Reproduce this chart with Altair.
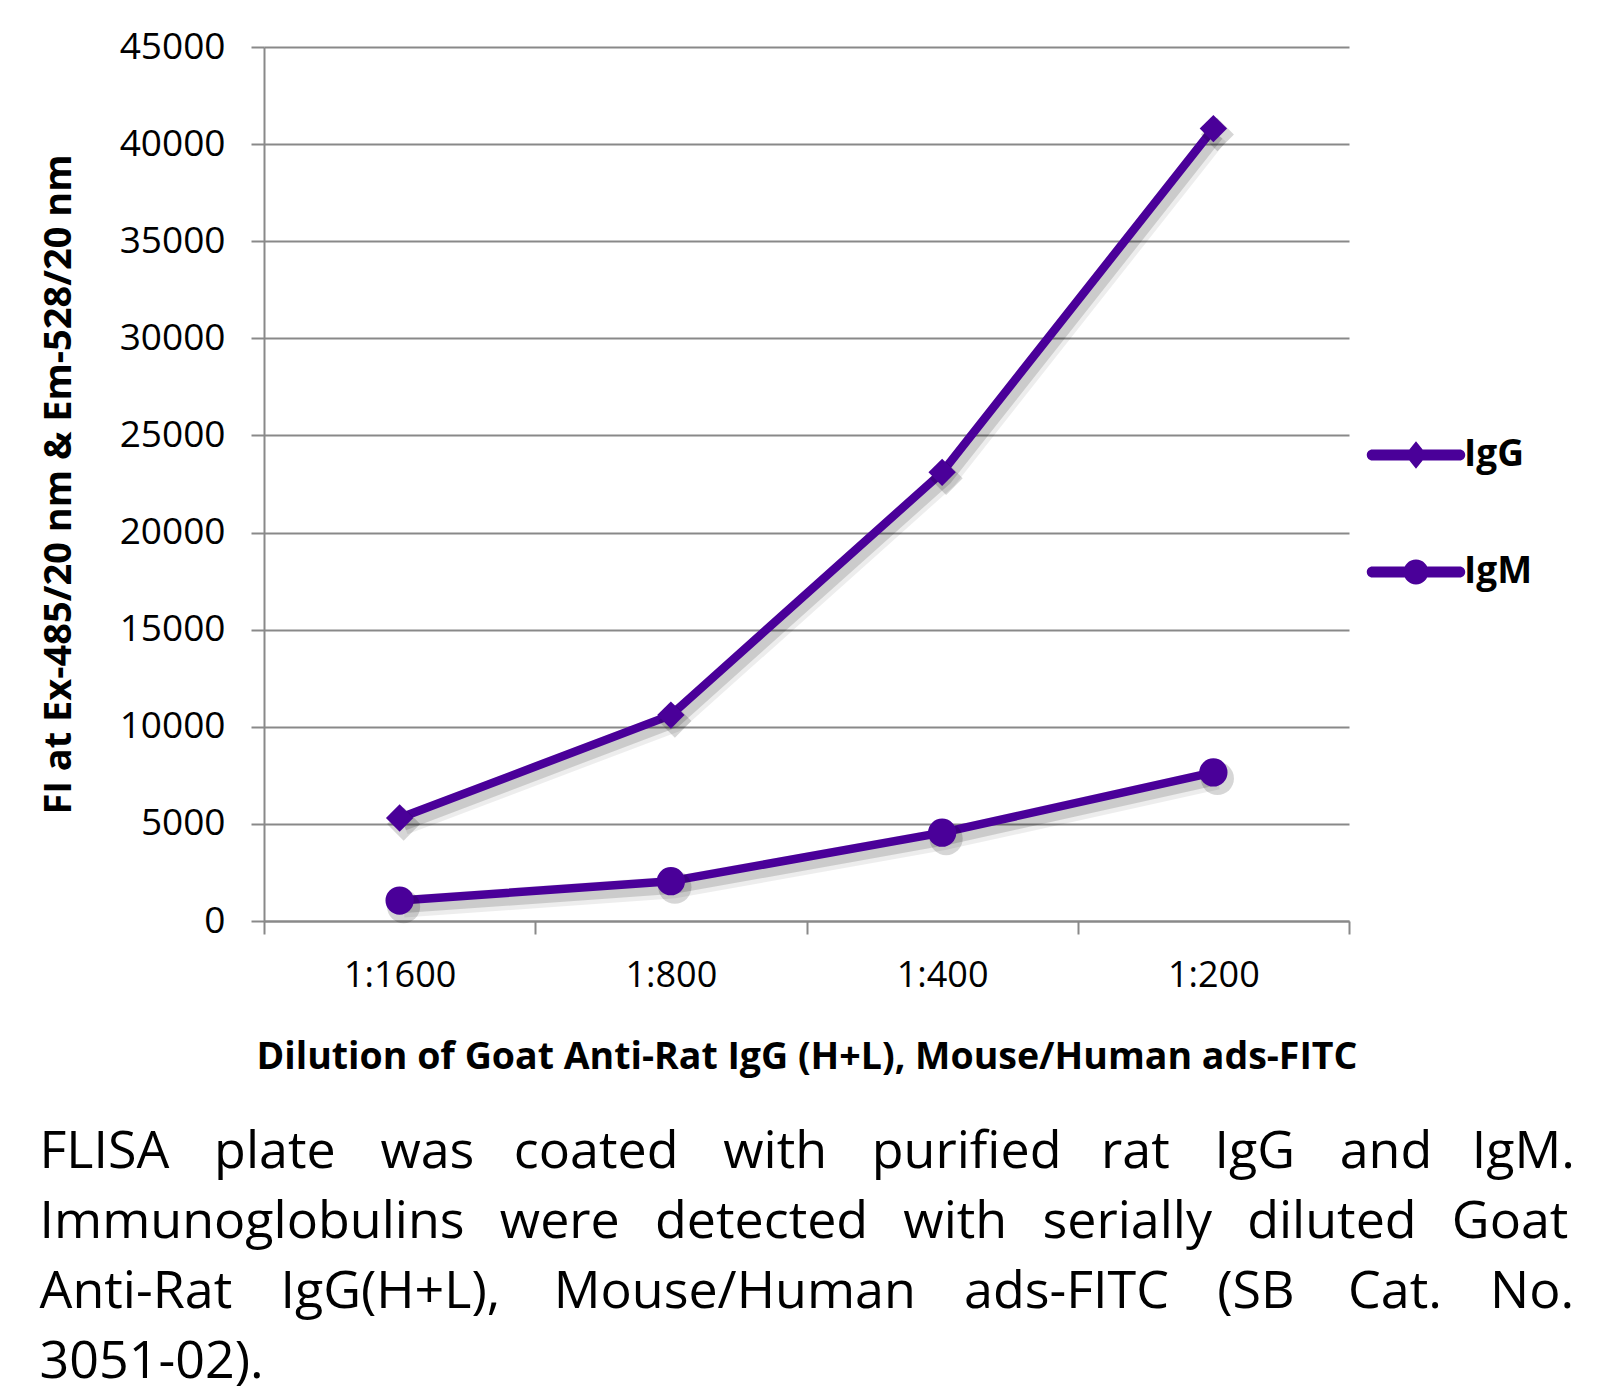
import altair as alt
import pandas as pd

dilutions = ["1:1600", "1:800", "1:400", "1:200"]
igg = [5300, 10600, 23100, 40800]
igm = [1050, 2050, 4550, 7650]
series = ["IgG", "IgM"]
y_ticks = [0, 5000, 10000, 15000, 20000, 25000, 30000, 35000, 40000, 45000]
caption_words = [
    ["FLISA", "plate", "was", "coated", "with", "purified", "rat", "IgG", "and", "IgM."],
    ["Immunoglobulins", "were", "detected", "with", "serially", "diluted", "Goat"],
    ["Anti-Rat", "IgG(H+L),", "Mouse/Human", "ads-FITC", "(SB", "Cat.", "No."],
    ["3051-02)."],
]
x_title = "Dilution of Goat Anti-Rat IgG (H+L), Mouse/Human ads-FITC"
y_title = "FI at Ex-485/20 nm & Em-528/20 nm"

# word gaps emulating the justified paragraph (style only)
A = " \u2004\u2006\u200a"
B = " \u2004\u2006"
C = " \u2002\u2006"
D = " \u2002\u2006\u200a"
E = " \u2005\u2006"
gap_patterns = [
    [A, A, B, A, A, B, A, A, B],
    [E, E, E, E, E, E],
    [C, D, C, C, D, C],
    [],
]


def join_words(words, gaps):
    out = words[0]
    for g, w in zip(gaps, words[1:]):
        out += g + w
    return out


caption_lines = [join_words(w, g) for w, g in zip(caption_words, gap_patterns)]

PURPLE = "#4A0099"
GRID = "#898989"
REG = "Open Sans"
BOLD = "Open Sans"

df = pd.DataFrame({
    "Dilution": dilutions * 2,
    "Value": igg + igm,
    "Series": [series[0]] * len(igg) + [series[1]] * len(igm),
})

x_enc = alt.X(
    "Dilution:N", sort=dilutions, bandPosition=0.5,
    scale=alt.Scale(type="band", paddingInner=0, paddingOuter=0),
    axis=alt.Axis(
        title=x_title, labelAngle=0, tickBand="extent", grid=False,
        domainColor=GRID, domainWidth=2, tickColor=GRID, tickWidth=2, tickSize=13,
        labelFont=REG, labelFontSize=36, labelColor="black", labelPadding=24,
        titleFont=BOLD, titleFontSize=37.5, titleFontWeight="bold", titleColor="black",
        titlePadding=45,
    ),
)
y_enc = alt.Y(
    "Value:Q",
    scale=alt.Scale(domain=[0, 45000], nice=False),
    axis=alt.Axis(
        values=y_ticks, format="d", title=y_title, grid=True,
        gridColor=GRID, gridWidth=2, domainColor=GRID, domainWidth=2,
        tickColor=GRID, tickWidth=2, tickSize=13,
        labelFont=REG, labelFontSize=37, labelColor="black", labelPadding=26,
        titleFont=BOLD, titleFontSize=38, titleFontWeight="bold", titleColor="black",
        titlePadding=41,
    ),
)

base = alt.Chart(df).encode(x=x_enc, y=y_enc, detail="Series:N")

shadow1 = base.mark_line(color="#000000", opacity=0.07, strokeWidth=22, xOffset=4, yOffset=6, strokeJoin="round")
shadow2 = base.mark_line(color="#000000", opacity=0.14, strokeWidth=13, xOffset=4, yOffset=6, strokeJoin="round")
line = base.mark_line(color=PURPLE, strokeWidth=8.5, strokeJoin="round")

pts_g = base.transform_filter(alt.datum.Series == series[0])
pts_m = base.transform_filter(alt.datum.Series == series[1])
sh_g = pts_g.mark_point(shape="diamond", filled=True, size=1100, color="#000000", opacity=0.16, xOffset=4, yOffset=6)
sh_m = pts_m.mark_point(shape="circle", filled=True, size=1100, color="#000000", opacity=0.16, xOffset=4, yOffset=6)
dot_g = pts_g.mark_point(shape="diamond", filled=True, size=750, color=PURPLE, opacity=1)
dot_m = pts_m.mark_point(shape="circle", filled=True, size=800, color=PURPLE, opacity=1)

path_g = ("M-0.95,-0.12 L0.95,-0.12 A0.12,0.12 0 0 1 0.95,0.12 L-0.95,0.12 "
          "A0.12,0.12 0 0 1 -0.95,-0.12 Z M-0.24,0 L0,-0.3 L0.24,0 L0,0.3 Z")
path_m = ("M-0.95,-0.12 L0.95,-0.12 A0.12,0.12 0 0 1 0.95,0.12 L-0.95,0.12 "
          "A0.12,0.12 0 0 1 -0.95,-0.12 Z M-0.27,0 A0.27,0.27 0 1 1 0.27,0 "
          "A0.27,0.27 0 1 1 -0.27,0 Z")

legend_layer = base.mark_point(filled=True, opacity=0, color=PURPLE).encode(
    shape=alt.Shape(
        "Series:N",
        scale=alt.Scale(domain=series, range=[path_g, path_m]),
        legend=alt.Legend(
            title=None, orient="none", legendX=1106, legendY=362, padding=0,
            symbolSize=8464, symbolFillColor=PURPLE, symbolStrokeWidth=0,
            symbolOpacity=1, labelFont=BOLD, labelFontWeight="bold",
            labelFontSize=37, labelColor="black", labelOffset=2, rowPadding=53,
        ),
    )
)

chart = alt.layer(
    shadow1, shadow2, line, sh_g, sh_m, dot_g, dot_m, legend_layer
).properties(
    width=1085,
    height=874,
    padding={"left": 31, "top": 20, "right": 5, "bottom": 0},
    title=alt.TitleParams(
        text=caption_lines, orient="bottom", anchor="start", frame="group",
        dx=-224.5, offset=51, font=REG, fontSize=52, fontWeight="normal",
        color="black", lineHeight=70.3,
    ),
).configure_view(stroke=None)

chart.save("out.html", embed_options={"renderer": "svg", "actions": False})
